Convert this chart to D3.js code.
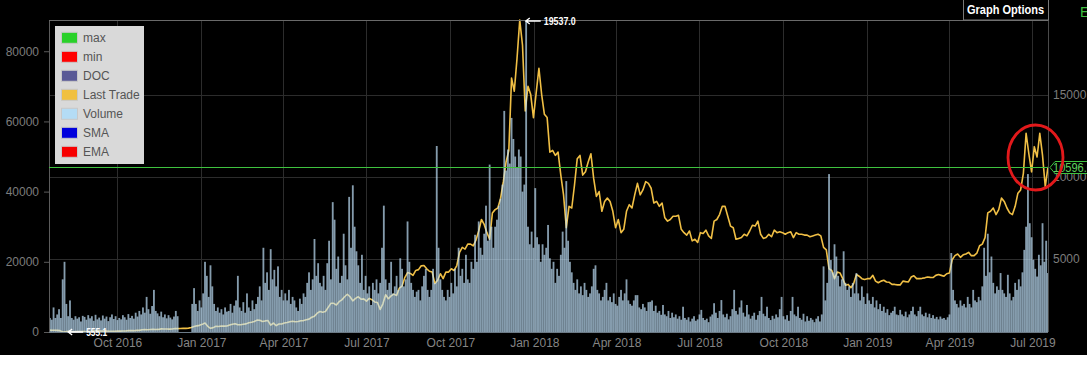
<!DOCTYPE html>
<html>
<head>
<meta charset="utf-8">
<script src="https://cdn.jsdelivr.net/npm/d3@7"></script>
<style>
    html, body { margin: 0; padding: 0; background: #fff; }
    svg text { font-family: Arial, "Liberation Sans", sans-serif; }
</style>
</head>
<body>
<div id="chart"></div>
<script>
const startDate = new Date(2016, 6, 18)
const endDate = new Date(2019, 6, 18)
const volumeStepDays = 2
const priceStepDays = 3

// volume, in thousands, one value per 2 days from 18 Jul 2016
const volumeK = [
    4, 3.5, 7, 4, 5, 6.5, 4, 15, 20, 8,
    4.5, 9, 4, 3.5, 4.5, 3.8, 4.2, 3, 4.6, 4.3,
    3.5, 4.8, 3.9, 4.5, 3.2, 4.9, 3.6, 4.1, 3.3, 4.7,
    3.8, 4.4, 3.1, 4.2, 5, 3.7, 4.5, 3.4, 4, 3.6,
    4.8, 4.2, 3.5, 5.1, 4, 4.6, 3.8, 5.5, 4.4, 6,
    5, 7, 5.5, 10, 6.5, 5.2, 7.4, 12, 6, 5.3,
    4.5, 5.8, 4.2, 5, 3.9, 4.8, 4.1, 3.6, 4.4, 6,
    4.5, 0, 0, 0, 0, 0, 0, 0, 8, 12.5,
    8, 6, 9, 7, 11, 20, 16, 10, 19, 13,
    8, 6, 7, 5.5, 6.5, 5, 7, 5.8, 6, 8,
    5.5, 7.5, 9, 16, 7, 6, 8.5, 5.5, 11, 7,
    6, 9, 6.5, 8, 10, 13, 9, 24, 14, 17,
    12, 23.6, 15, 17.7, 13, 18.7, 10, 12, 9, 11,
    9, 12, 8, 10, 9, 7, 6, 9.5, 8, 11,
    10, 14, 17, 12, 15, 26.5, 16, 19.6, 14, 13,
    16, 12, 19.6, 26, 15, 37, 32, 18, 21.5, 14,
    16, 28, 19, 15, 38.5, 24, 41.8, 30, 23, 19,
    14, 22, 12, 16, 11, 13, 7.7, 14, 12, 15,
    11, 14, 24, 36, 15, 12, 14, 20, 11, 13,
    16, 12, 21, 18, 13, 15, 31.5, 20, 14, 12,
    10, 11.5, 12, 9, 13, 16, 18, 12, 10, 12,
    18, 14, 53, 24, 15, 12, 10, 9, 12, 10,
    14, 11, 18, 13, 24, 16, 18, 14, 22, 15,
    14, 20, 18, 27.7, 20, 31.5, 24, 22, 28, 36,
    26, 47.7, 30, 24, 30, 32, 36, 38, 42, 63,
    46, 52, 48, 61, 55, 50, 47, 52, 50, 40,
    42, 88.9, 30, 25, 28.6, 24, 41, 27, 25, 20,
    25, 22, 24, 30.5, 21, 18, 20, 14, 18, 16,
    22, 28.6, 24, 43, 26, 20, 17, 14, 12, 15,
    11, 13, 10.5, 14, 12, 10, 11, 13, 18, 19,
    12, 11, 9, 10, 12, 14, 9, 10, 8.5, 11,
    8, 7.5, 10, 12, 9, 11, 15, 9, 8, 7.5,
    9, 10.5, 10.5, 7, 6.5, 8, 7, 6, 8.5, 8.6,
    9, 6, 7.5, 5.5, 6, 4.9, 7.7, 5, 4.5, 6,
    4, 5.5, 4.2, 5, 3.8, 4.5, 3.5, 7.2, 4, 3.5,
    4.2, 3, 3.8, 4.5, 3.2, 3.6, 5, 6.3, 4, 3.4,
    3.8, 2.8, 4.4, 5, 8.2, 5.5, 4, 6, 9.1, 5,
    4.2, 5.2, 3.6, 4.5, 6.5, 12, 6, 5, 7, 9,
    5.5, 4.4, 7.7, 5, 3.8, 4.6, 5.5, 3.5, 4.8, 6,
    10, 5.2, 4.5, 7.2, 4, 3.4, 4.6, 3.8, 5, 4.2,
    6.5, 10, 4.5, 3.6, 4.8, 3.2, 6, 10, 5, 4.5,
    7.2, 4, 3.5, 5.2, 3, 4.5, 3.2, 4, 3.5, 2.8,
    3.8, 4.5, 3, 5, 18.7, 9, 14, 45, 20.5, 17,
    25, 21.5, 16, 13, 15, 23, 14, 12, 13, 10,
    14, 11, 16.8, 11, 9, 13, 10, 8, 11, 9,
    8, 10, 7, 9, 6.5, 8, 6, 7.2, 5.5, 6.5,
    4.8, 5.5, 6, 7.2, 5, 4.8, 6.3, 5, 4.5, 5.8,
    4.2, 5, 6, 7.2, 5, 4.5, 6, 7.2, 5, 4.5,
    5.5, 4.2, 5.2, 4, 4.8, 3.8, 4.3, 3.6, 4.4, 3.8,
    4, 3.5, 4.2, 5, 22.5, 12, 9, 8, 7, 9,
    7.5, 8, 7, 10, 8, 7, 12, 9, 8.5, 10,
    9, 13, 24, 16, 28, 17, 21.5, 14, 11, 13,
    12, 16.8, 12, 11, 10, 16.3, 11, 9, 10, 14,
    12, 15, 13, 17, 23.4, 30, 45, 31, 27, 20.6,
    18, 15.8, 22, 19, 31, 20, 26, 16.8
]

// last trade, one value per 3 days from 18 Jul 2016
const lastTrade = [
    670, 665, 660, 655, 640, 555.1, 575, 592, 590, 570,
    575, 581, 585, 578, 574, 572, 610, 614, 622, 608,
    607, 610, 597, 603, 605, 615, 610, 617, 618, 636,
    640, 636, 655, 655, 688, 700, 688, 710, 720, 704,
    712, 745, 738, 735, 728, 742, 764, 758, 770, 778,
    778, 790, 830, 895, 930, 960, 1020, 1100, 900, 780,
    820, 900, 890, 920, 915, 920, 980, 1030, 1060, 1000,
    995, 1030, 1050, 1120, 1150, 1190, 1280, 1270, 1190, 1230,
    1250, 970, 1100, 940, 1040, 1040, 1100, 1130, 1180, 1210,
    1180, 1190, 1240, 1250, 1300, 1340, 1450, 1520, 1700, 1800,
    1760, 1800, 2050, 2300, 2300, 2200, 2400, 2510, 2700, 2850,
    2700, 2450, 2600, 2700, 2550, 2570, 2430, 2600, 2520, 2380,
    2350, 1930, 2270, 2820, 2580, 2750, 2860, 2780, 3230, 3350,
    3870, 4170, 4120, 4000, 4300, 4350, 4580, 4600, 4400, 4250,
    4200, 3500, 3700, 4100, 3800, 4200, 4200, 4400, 4300, 4600,
    5400, 5700, 5600, 5900, 5900, 5800, 6150, 6700, 7400, 7100,
    6600, 6200, 7800, 8000, 8100, 8700, 9700, 10900, 11600, 16000,
    15200, 17200, 19537, 18000, 14000, 15500, 15000, 13600, 15100, 16600,
    15000, 13800, 13600, 11500, 11600, 11300, 11500, 10100, 8900, 6900,
    8200, 8100, 9500, 11100, 11300, 10100, 10300, 10900, 11400, 9900,
    8800, 9100, 7900, 8500, 8700, 8500, 7900, 6900, 7400, 6600,
    6800, 7900, 8300, 8100, 8900, 9600, 8900, 9200, 9700, 9600,
    9300, 8400, 8500, 8200, 8400, 7500, 7300, 7400, 7600, 7600,
    7650, 6800, 6600, 6450, 6700, 6100, 6200, 6000, 6600, 6550,
    6750, 6400, 6250, 7300, 7400, 7700, 8200, 8200, 7600, 7000,
    6900, 6200, 6250, 6300, 6500, 6400, 6700, 7050, 7000, 7300,
    6500, 6250, 6300, 6500, 6350, 6750, 6600, 6650, 6600, 6500,
    6600, 6650, 6300, 6600, 6500, 6500, 6450, 6450, 6350, 6400,
    6450, 6500, 6400, 5700, 5550, 4400, 4300, 3800, 4200, 4150,
    3800, 3400, 3450, 3250, 3500, 4050, 3950, 3800, 3750, 3800,
    3800, 4000, 3650, 3550, 3650, 3700, 3600, 3580, 3450, 3450,
    3420, 3420, 3650, 3620, 3600, 3900, 3980, 3800, 3800, 3820,
    3850, 3900, 3880, 3870, 4000, 4050, 4000, 3950, 4100, 4150,
    4950, 5200, 5300, 5100, 5250, 5300, 5400, 5200, 5200, 5350,
    5800, 5900, 6300, 7800, 7900, 8100, 7700, 8000, 8700, 8500,
    8100, 7800, 7700, 8200, 9000, 9200, 10200, 12640, 11400, 10300,
    11830, 11200, 12640, 11300, 9400, 10596
]

const currentTrade = 10596.0
const volumeTicks = [0, 20000, 40000, 60000, 80000]
const priceTicks = [5000, 10000, 15000]
const legendLabels = ['max', 'min', 'DOC', 'Last Trade', 'Volume', 'SMA', 'EMA']
const legendColors = ['#2ad12a', '#ff0000', '#5a5a96', '#f0c040', '#b4dcf5', '#0000dc', '#f70000']

const render = () => {
    const width = 1087, height = 375
    const left = 49, right = 1048, top = 20, bottom = 332

    const svg = d3.select('#chart').append('svg')
        .attr('width', width)
        .attr('height', height)
        .style('display', 'block')

    // dark chart area, white strip underneath
    svg.append('rect').attr('width', width).attr('height', 355).attr('fill', '#000')

    const volume = volumeK.map((v, i) => ({
        date: d3.timeDay.offset(startDate, i * volumeStepDays),
        value: v * 1000
    }))
    const price = lastTrade.map((v, i) => ({
        date: d3.timeDay.offset(startDate, i * priceStepDays),
        value: v
    }))

    const x = d3.scaleTime().domain([startDate, endDate]).range([left, right])
    const yVol = d3.scaleLinear().domain([0, d3.max(volume, d => d.value)]).range([bottom, top])
    const yPrice = d3.scaleLinear().domain(d3.extent(price, d => d.value)).range([bottom, top])

    const monthTicks = x.ticks(d3.timeMonth.every(3))

    // grid
    svg.append('g').selectAll('line')
        .data(monthTicks)
        .enter().append('line')
        .attr('x1', d => Math.round(x(d)) + 0.5)
        .attr('x2', d => Math.round(x(d)) + 0.5)
        .attr('y1', top)
        .attr('y2', bottom)
        .style('stroke', '#2c2c2c')

    svg.append('g').selectAll('line')
        .data(priceTicks)
        .enter().append('line')
        .attr('x1', left)
        .attr('x2', right)
        .attr('y1', d => Math.round(yPrice(d)) + 0.5)
        .attr('y2', d => Math.round(yPrice(d)) + 0.5)
        .style('stroke', '#2c2c2c')

    // last trade line sits under the volume bars
    const line = d3.line()
        .x(d => x(d.date))
        .y(d => yPrice(d.value))

    svg.append('path')
        .datum(price)
        .attr('d', line)
        .attr('fill', 'none')
        .attr('stroke', '#f0bf45')
        .attr('stroke-width', 1.6)
        .attr('stroke-linejoin', 'round')

    const barW = x(d3.timeDay.offset(startDate, volumeStepDays)) - x(startDate)

    svg.append('g').selectAll('rect')
        .data(volume.filter(d => d.value > 0))
        .enter().append('rect')
        .attr('x', d => x(d.date))
        .attr('width', barW)
        .attr('y', d => yVol(d.value))
        .attr('height', d => bottom - yVol(d.value))
        .attr('fill', '#c4e6ff')
        .attr('fill-opacity', 0.68)

    // frame
    svg.append('line').attr('x1', left + 0.5).attr('x2', left + 0.5).attr('y1', top).attr('y2', bottom).style('stroke', '#5c5c5c')
    svg.append('line').attr('x1', left).attr('x2', right).attr('y1', top + 0.5).attr('y2', top + 0.5).style('stroke', '#6a6a6a')
    svg.append('line').attr('x1', right + 0.5).attr('x2', right + 0.5).attr('y1', top).attr('y2', bottom).style('stroke', '#4a4a4a')
    svg.append('line').attr('x1', left).attr('x2', right).attr('y1', bottom + 0.5).attr('y2', bottom + 0.5).style('stroke', '#6c7a86')

    // axes
    const yAxisLeft = svg.append('g')
        .attr('transform', `translate(${left},0)`)
        .call(d3.axisLeft(yVol).tickValues(volumeTicks).tickSize(5).tickPadding(5).tickFormat(d3.format('d')))
    const yAxisRight = svg.append('g')
        .attr('transform', `translate(${right},0)`)
        .call(d3.axisRight(yPrice).tickValues(priceTicks).tickSize(0).tickPadding(5).tickFormat(d3.format('d')))
    const xAxis = svg.append('g')
        .attr('transform', `translate(0,${bottom})`)
        .call(d3.axisBottom(x).tickValues(monthTicks).tickSize(0).tickPadding(6.5).tickFormat(d3.timeFormat('%b %Y')))

    ;[yAxisLeft, yAxisRight, xAxis].forEach(g => {
        g.select('.domain').remove()
        g.selectAll('line').style('stroke', '#5a5a5a')
        g.selectAll('text').style('fill', '#7c7c7c').style('font-size', '12px')
            .style('font-family', 'Arial, "Liberation Sans", sans-serif')
    })
    xAxis.selectAll('text').style('fill', '#858585')

    // current trade line and its tag
    const yCur = Math.round(yPrice(currentTrade)) + 0.5
    svg.append('line')
        .attr('x1', left).attr('x2', right)
        .attr('y1', yCur).attr('y2', yCur)
        .style('stroke', '#3fc23f')

    svg.append('path')
        .attr('d', `M${right + 2},${yCur} L${right + 7},${yCur - 6} L${width + 10},${yCur - 6} L${width + 10},${yCur + 6} L${right + 7},${yCur + 6} Z`)
        .attr('fill', '#000')
        .attr('stroke', '#3fc23f')
    svg.append('text')
        .attr('x', right + 5)
        .attr('y', yCur + 4.5)
        .attr('fill', '#5fd05f')
        .attr('textLength', 40)
        .attr('lengthAdjust', 'spacingAndGlyphs')
        .style('font-size', '12px')
        .text(currentTrade.toFixed(1))

    // max / min markers
    const maxPt = price.reduce((a, b) => b.value > a.value ? b : a)
    const minPt = price.reduce((a, b) => b.value < a.value ? b : a)

    const marker = (pt, dx, dy, textW) => {
        const px = x(pt.date) + dx, py = yPrice(pt.value) + dy
        const g = svg.append('g')
        g.append('path')
            .attr('d', `M${px + 15},${py} L${px},${py} M${px + 4},${py - 3} L${px},${py} L${px + 4},${py + 3}`)
            .attr('fill', 'none')
            .attr('stroke', '#fff')
            .attr('stroke-width', 1.3)
        g.append('text')
            .attr('x', px + 18)
            .attr('y', py + 4)
            .attr('fill', '#fff')
            .attr('textLength', textW)
            .attr('lengthAdjust', 'spacingAndGlyphs')
            .style('font-size', '11px')
            .style('font-weight', 'bold')
            .text(pt.value.toFixed(1))
    }
    marker(maxPt, 6, 1, 32)
    marker(minPt, 5.5, 0, 21)

    // highlight around the latest peaks
    svg.append('ellipse')
        .attr('cx', 1035.5).attr('cy', 157.5)
        .attr('rx', 27.5).attr('ry', 32.5)
        .attr('fill', 'none')
        .attr('stroke', '#e2191b')
        .attr('stroke-width', 2.8)

    // graph options button
    svg.append('rect')
        .attr('x', 963.5).attr('y', -1)
        .attr('width', right - 963).attr('height', 21)
        .attr('fill', '#000')
        .attr('stroke', '#777')
    svg.append('text')
        .attr('x', 1005.5).attr('y', 13.5)
        .attr('text-anchor', 'middle')
        .attr('fill', '#fff')
        .attr('textLength', 77)
        .attr('lengthAdjust', 'spacingAndGlyphs')
        .style('font-size', '12px')
        .style('font-weight', 'bold')
        .text('Graph Options')
    svg.append('text')
        .attr('x', 1080).attr('y', 17)
        .attr('fill', '#3fbf3f')
        .style('font-size', '14px')
        .text('E')

    // legend
    const legend = svg.append('g').attr('transform', 'translate(55,26)')
    legend.append('rect').attr('width', 89).attr('height', 138).attr('fill', '#d9d9d9')
    const items = legend.selectAll('.legend-item')
        .data(legendLabels)
        .enter().append('g')
        .attr('class', 'legend-item')
        .attr('transform', (d, i) => `translate(0,${11.8 + i * 19})`)
    items.append('rect')
        .attr('x', 6.5).attr('y', -5.5)
        .attr('width', 16).attr('height', 11)
        .attr('fill', (d, i) => legendColors[i])
        .attr('stroke', '#c8c8c8')
    items.append('text')
        .attr('x', 28)
        .attr('dy', '0.35em')
        .attr('fill', '#555')
        .style('font-size', '12px')
        .text(d => d)
}

render()
</script>
</body>
</html>
